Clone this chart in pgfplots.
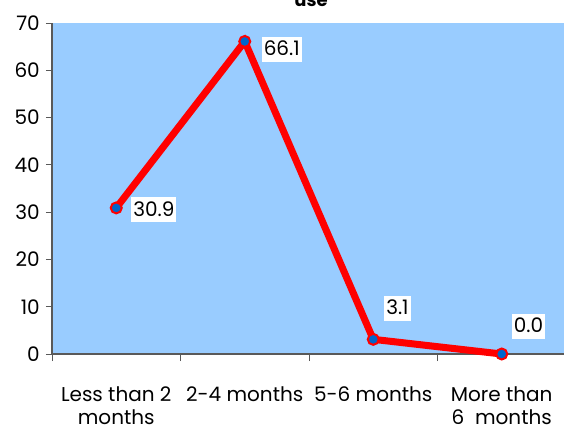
\documentclass[border=0pt]{standalone}
\usepackage{fontspec}
\setmainfont{Poppins}
\usepackage{pgfplots}
\pgfplotsset{compat=1.18}
\definecolor{bgblue}{RGB}{153,204,255}
\definecolor{ptblue}{RGB}{0,102,204}
\begin{document}
\begin{tikzpicture}
\begin{axis}[
  scale only axis,
  width=514bp, height=331bp,
  at={(0,0)}, anchor=south west,
  xmin=0, xmax=4, ymin=0, ymax=70,
  axis x line=bottom, axis y line=left,
  axis line style={-, draw=black!65, line width=1.2bp},
  axis background/.style={fill=bgblue},
  clip=false,
  ytick={0,10,...,70},
  xtick={0.5,1.5,2.5,3.5},
  xticklabels={Less than 2\\months, 2-4 months, 5-6 months, More than\\6~~months},
  minor xtick={0,1,2,3,4},
  tick align=outside,
  major tick length=6bp,
  minor tick length=7bp,
  x tick style={draw=black!65, line width=1bp},
  y tick style={draw=black!65, line width=1bp},
  xtick style={/pgfplots/major tick length=0pt},
  /pgf/number format/assume math mode=true,
  ticklabel style={font=\fontsize{20bp}{23bp}\selectfont},
  xticklabel style={align=center, anchor=north, inner sep=0pt, yshift=-26bp},
  yticklabel style={anchor=east, inner sep=0pt, xshift=-6bp},
  nodes near coords,
  point meta=explicit symbolic,
  visualization depends on={\thisrow{dx}\as\dx},
  visualization depends on={\thisrow{dy}\as\dy},
  every node near coord/.append style={anchor=west, fill=white, inner xsep=2bp, inner ysep=4bp,
     text height=15bp, text depth=2bp, xshift=\dx bp, yshift=\dy bp,
     font=\fontsize{20bp}{23bp}\selectfont, text=black},
]
\addplot[red, line width=7bp, mark=*, mark size=5.5bp,
  mark options={fill=ptblue, draw=red, line width=2bp}]
  table[x=x, y=y, meta=lbl] {
x y lbl dx dy
0.5 30.9 30.9 14 -2
1.5 66.1 66.1 16 -8
2.5 3.1 3.1 10 31
3.5 0.0 0.0 9 28
};
\end{axis}
\node[anchor=base, font=\bfseries\fontsize{18bp}{20bp}\selectfont] at (259bp,347bp) {use};
\pgfresetboundingbox
\useasboundingbox (-52bp,-71bp) rectangle (512bp,354bp);
\end{tikzpicture}
\end{document}
